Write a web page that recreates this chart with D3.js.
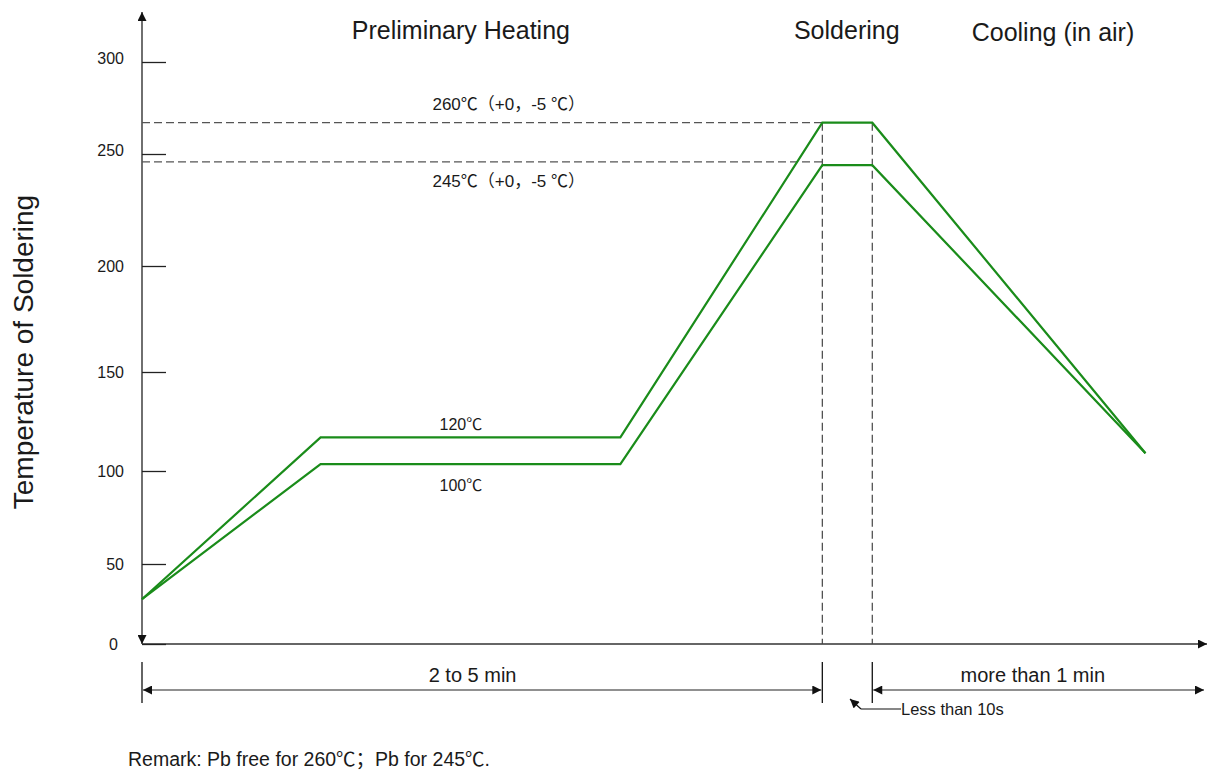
<!DOCTYPE html>
<html>
<head>
<meta charset="utf-8">
<script src="https://cdn.jsdelivr.net/npm/d3@7"></script>
<style>
  body { margin: 0; background: #fff; }
  svg text { font-family: "Liberation Sans", Arial, "Noto Sans CJK SC", sans-serif; fill: #1a1a1a; }
</style>
</head>
<body>
<svg id="profile" width="1208" height="771"></svg>
<script>
// schematic time axis, in percent of axis length
var phaseX = [0, 16.8, 45, 64, 68.7, 94.4];
var pbFree = [28, 117, 117, 267, 267, 109];   // 260℃ profile
var pbLead = [28, 103.5, 103.5, 245, 245, 109]; // 245℃ profile
var yTicks = [0, 50, 100, 150, 200, 250, 300];
var refTemps = [267, 246.5];
var refX = [64, 68.7];
var phases = ["Preliminary Heating", "Soldering", "Cooling (in air)"];
var phaseCenters = [30, 66.3, 85.7];
var spans = [{from: 0, to: 64, label: "2 to 5 min", at: 31.1}, {from: 68.7, to: 100, label: "more than 1 min", at: 83.8}];

var svg = d3.select("#profile");

// the drawing is not to scale, so the y scale follows the tick spacing of the picture
var y = d3.scaleLinear()
    .domain(yTicks)
    .range([644, 564, 471, 372, 266, 154, 62]);
var x = d3.scaleLinear().domain([0, 100]).range([142, 1205]);

var defs = svg.append("defs");
defs.append("marker")
    .attr("id", "arrow")
    .attr("viewBox", "0 0 10 10")
    .attr("refX", 10).attr("refY", 5)
    .attr("markerWidth", 10).attr("markerHeight", 9)
    .attr("markerUnits", "userSpaceOnUse")
    .attr("orient", "auto-start-reverse")
  .append("path")
    .attr("d", "M0,0 L10,5 L0,10 z")
    .attr("fill", "#111");

// axes
svg.append("line")
    .attr("x1", x(0)).attr("x2", x(0))
    .attr("y1", 12).attr("y2", y(0))
    .attr("stroke", "#222").attr("stroke-width", 1.3)
    .attr("marker-start", "url(#arrow)")
    .attr("marker-end", "url(#arrow)");

svg.append("line")
    .attr("x1", x(0)).attr("x2", 1207)
    .attr("y1", y(0)).attr("y2", y(0))
    .attr("stroke", "#333").attr("stroke-width", 1.3)
    .attr("marker-end", "url(#arrow)");

var yAxis = svg.append("g")
    .attr("transform", "translate(" + x(0) + ",0)")
    .call(d3.axisLeft(y).tickValues(yTicks).tickSizeInner(-24).tickSizeOuter(0).tickPadding(18));
yAxis.select(".domain").remove();
yAxis.selectAll(".tick line").attr("stroke", "#222").attr("stroke-width", 1.3);
yAxis.selectAll(".tick text")
    .attr("font-size", "16px")
    .attr("fill", "#222")
    .attr("dy", function(d) { return d === 250 || d === 300 ? "0.1em" : "0.32em"; })
    .attr("dx", function(d) { return d === 0 ? -6 : 0; });

svg.append("text")
    .attr("transform", "translate(33,352) rotate(-90)")
    .attr("text-anchor", "middle")
    .attr("font-size", "28px")
    .text("Temperature of Soldering");

// dashed reference lines
svg.selectAll(".refH")
    .data(refTemps)
  .enter().append("line")
    .attr("class", "refH")
    .attr("x1", x(0)).attr("x2", x(refX[0]))
    .attr("y1", function(d) { return y(d); })
    .attr("y2", function(d) { return y(d); })
    .attr("stroke", "#555").attr("stroke-width", 1.2)
    .attr("stroke-dasharray", "8,4");

svg.selectAll(".refV")
    .data(refX)
  .enter().append("line")
    .attr("class", "refV")
    .attr("x1", function(d) { return x(d); })
    .attr("x2", function(d) { return x(d); })
    .attr("y1", y(refTemps[0])).attr("y2", y(0))
    .attr("stroke", "#444").attr("stroke-width", 1.2)
    .attr("stroke-dasharray", "8,4");

// profiles
var line = d3.line()
    .x(function(d) { return x(d[0]); })
    .y(function(d) { return y(d[1]); });

[pbFree, pbLead].forEach(function(series) {
  svg.append("path")
      .datum(d3.zip(phaseX, series))
      .attr("d", line)
      .attr("fill", "none")
      .attr("stroke", "#1a8c1a")
      .attr("stroke-width", 2.2)
      .attr("stroke-linejoin", "miter");
});

// phase titles
svg.selectAll(".phase")
    .data(phases)
  .enter().append("text")
    .attr("class", "phase")
    .attr("x", function(d, i) { return x(phaseCenters[i]); })
    .attr("y", function(d, i) { return i === 2 ? 41 : 39; })
    .attr("text-anchor", "middle")
    .attr("font-size", "25px")
    .text(function(d) { return d; });

// temperature notes
svg.append("text").attr("x", x(34.5)).attr("y", y(refTemps[0]) - 13)
    .attr("text-anchor", "middle").attr("font-size", "17px")
    .text("260℃（+0，-5 ℃）");
svg.append("text").attr("x", x(34.5)).attr("y", y(refTemps[1]) + 25)
    .attr("text-anchor", "middle").attr("font-size", "17px")
    .text("245℃（+0，-5 ℃）");
svg.append("text").attr("x", x(30)).attr("y", y(pbFree[1]) - 7)
    .attr("text-anchor", "middle").attr("font-size", "16px")
    .text("120℃");
svg.append("text").attr("x", x(30)).attr("y", y(pbLead[1]) + 27)
    .attr("text-anchor", "middle").attr("font-size", "16px")
    .text("100℃");

// dimension lines under the axis
var dimY = 690;
[0, 64, 68.7].forEach(function(d) {
  svg.append("line")
      .attr("x1", x(d)).attr("x2", x(d))
      .attr("y1", 662).attr("y2", 703)
      .attr("stroke", "#111").attr("stroke-width", 1.3);
});

svg.selectAll(".span")
    .data(spans)
  .enter().append("line")
    .attr("class", "span")
    .attr("x1", function(d) { return x(d.from) + 1; })
    .attr("x2", function(d) { return x(d.to) - 1; })
    .attr("y1", dimY).attr("y2", dimY)
    .attr("stroke", "#222").attr("stroke-width", 1.2)
    .attr("marker-start", "url(#arrow)")
    .attr("marker-end", "url(#arrow)");

svg.selectAll(".spanLabel")
    .data(spans)
  .enter().append("text")
    .attr("class", "spanLabel")
    .attr("x", function(d) { return x(d.at); })
    .attr("y", 682)
    .attr("text-anchor", "middle")
    .attr("font-size", "20px")
    .text(function(d) { return d.label; });

// leader for the soldering window
svg.append("path")
    .attr("d", "M861,709 L850,699")
    .attr("stroke", "#111").attr("stroke-width", 1.2)
    .attr("marker-end", "url(#arrow)");
svg.append("line")
    .attr("x1", 861).attr("x2", 901)
    .attr("y1", 709).attr("y2", 709)
    .attr("stroke", "#111").attr("stroke-width", 1.2);
svg.append("text")
    .attr("x", 901).attr("y", 715)
    .attr("font-size", "16.5px")
    .text("Less than 10s");

svg.append("text")
    .attr("x", 128).attr("y", 766)
    .attr("font-size", "19.5px")
    .text("Remark: Pb free for 260℃；Pb for 245℃.");
</script>
</body>
</html>
